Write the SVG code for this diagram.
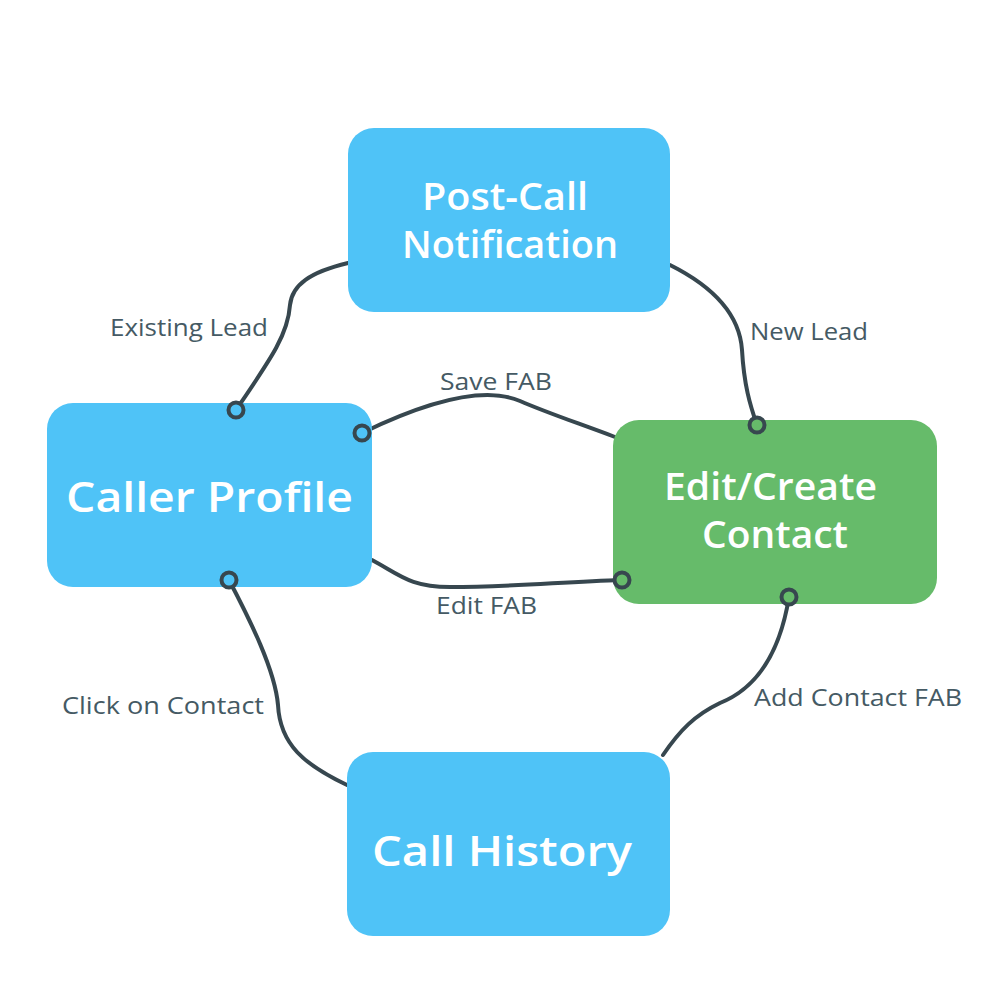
<svg xmlns="http://www.w3.org/2000/svg" width="1000" height="1000" viewBox="0 0 1000 1000">
<style>
.node{stroke:none}
.blue{fill:#4FC3F7}
.green{fill:#66BB6A}
.t{font-family:"Open Sans","Liberation Sans",sans-serif;font-weight:600;fill:#ffffff}
.lbl{font-family:"Open Sans","Liberation Sans",sans-serif;font-size:23px;fill:#455A64}
.c{fill:none;stroke:#37474F;stroke-width:4;stroke-linecap:round}
.dot{stroke:#37474F;stroke-width:4}
</style>
<rect width="1000" height="1000" fill="#ffffff"/>
<g id="connectors">
<path class="c" d="M348,263 C310,272 292,285 290,305 C288,335 270,360 236,410"/>
<path class="c" d="M670,265 C720,290 740,320 742,350 C744,385 750,405 757,425"/>
<path class="c" d="M615,437 C575,422 545,412 520,401 C485,386 430,400 362,433"/>
<path class="c" d="M372,560 C400,575 410,587 450,587 C510,587 560,582 622,580"/>
<path class="c" d="M229,580 C250,620 275,670 278,705 C280,745 305,765 347,785"/>
<path class="c" d="M663,755 C680,730 695,715 720,703 C765,685 782,640 789,597"/>
<text class="lbl" x="110" y="336" textLength="158" lengthAdjust="spacingAndGlyphs">Existing Lead</text>
<text class="lbl" x="750" y="340" textLength="118" lengthAdjust="spacingAndGlyphs">New Lead</text>
<text class="lbl" x="440" y="390" textLength="112" lengthAdjust="spacingAndGlyphs">Save FAB</text>
<text class="lbl" x="436" y="614" textLength="101" lengthAdjust="spacingAndGlyphs">Edit FAB</text>
<text class="lbl" x="62" y="714" textLength="202" lengthAdjust="spacingAndGlyphs">Click on Contact</text>
<text class="lbl" x="754" y="706" textLength="208" lengthAdjust="spacingAndGlyphs">Add Contact FAB</text>
</g>
<g id="post-call">
<rect class="node blue" x="348" y="128" width="322" height="184" rx="26"/>
<text class="t" x="422" y="210" font-size="37" textLength="166" lengthAdjust="spacingAndGlyphs">Post-Call</text>
<text class="t" x="402" y="258" font-size="37" textLength="216" lengthAdjust="spacingAndGlyphs">Notification</text>
</g>
<g id="caller-profile">
<rect class="node blue" x="47" y="403" width="325" height="184" rx="26"/>
<text class="t" x="66" y="512" font-size="42" textLength="287" lengthAdjust="spacingAndGlyphs">Caller Profile</text>
<circle class="dot blue" cx="236" cy="410" r="7.5"/>
<circle class="dot blue" cx="362" cy="433" r="7.5"/>
<circle class="dot blue" cx="229" cy="580" r="7.5"/>
</g>
<g id="edit-create">
<rect class="node green" x="613" y="420" width="324" height="184" rx="26"/>
<text class="t" x="664" y="500" font-size="37" textLength="213" lengthAdjust="spacingAndGlyphs">Edit/Create</text>
<text class="t" x="702" y="548" font-size="37" textLength="146" lengthAdjust="spacingAndGlyphs">Contact</text>
<circle class="dot green" cx="757" cy="425" r="7.5"/>
<circle class="dot green" cx="622" cy="580" r="7.5"/>
<circle class="dot green" cx="789" cy="597" r="7.5"/>
</g>
<g id="call-history">
<rect class="node blue" x="347" y="752" width="323" height="184" rx="26"/>
<text class="t" x="372" y="866" font-size="42" textLength="260" lengthAdjust="spacingAndGlyphs">Call History</text>
</g>
</svg>
